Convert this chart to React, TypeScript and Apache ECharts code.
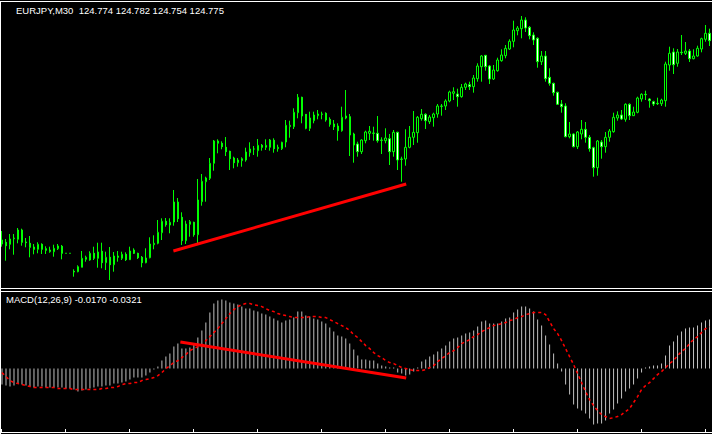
import React, { useEffect, useRef } from "react";
import * as echarts from "echarts";

const symbol = "EURJPY";
const timeframe = "M30";
const headerOHLC = ["124.774", "124.782", "124.754", "124.775"];
const macdLabel = "MACD(12,26,9)";
const macdHeaderValues = ["-0.0170", "-0.0321"];

// [open, close, low, high]
const ohlc: number[][] = [
  [122.74, 122.78, 122.713, 122.87],
  [122.757, 122.723, 122.573, 122.79],
  [122.737, 122.79, 122.687, 122.84],
  [122.793, 122.8, 122.633, 122.84],
  [122.787, 122.88, 122.747, 122.9],
  [122.88, 122.757, 122.723, 122.893],
  [122.76, 122.753, 122.707, 122.8],
  [122.747, 122.707, 122.607, 122.82],
  [122.71, 122.687, 122.637, 122.74],
  [122.687, 122.737, 122.647, 122.757],
  [122.737, 122.687, 122.64, 122.747],
  [122.693, 122.677, 122.64, 122.717],
  [122.663, 122.68, 122.653, 122.713],
  [122.663, 122.697, 122.613, 122.733],
  [122.693, 122.72, 122.68, 122.74],
  [122.717, 122.647, 122.587, 122.73],
  [122.647, 122.647, 122.647, 122.647],
  [122.647, 122.647, 122.647, 122.647],
  [122.467, 122.46, 122.413, 122.487],
  [122.463, 122.513, 122.457, 122.527],
  [122.507, 122.597, 122.507, 122.67],
  [122.587, 122.607, 122.563, 122.623],
  [122.58, 122.647, 122.573, 122.667],
  [122.647, 122.597, 122.58, 122.713],
  [122.597, 122.66, 122.503, 122.753],
  [122.667, 122.553, 122.497, 122.753],
  [122.553, 122.607, 122.48, 122.663],
  [122.607, 122.533, 122.38, 122.71],
  [122.533, 122.62, 122.463, 122.66],
  [122.62, 122.607, 122.563, 122.67],
  [122.597, 122.637, 122.58, 122.663],
  [122.637, 122.583, 122.57, 122.657],
  [122.583, 122.67, 122.58, 122.713],
  [122.68, 122.647, 122.64, 122.697],
  [122.647, 122.603, 122.59, 122.653],
  [122.607, 122.553, 122.507, 122.62],
  [122.553, 122.6, 122.547, 122.697],
  [122.603, 122.74, 122.597, 122.807],
  [122.733, 122.747, 122.687, 122.827],
  [122.747, 122.857, 122.737, 122.98],
  [122.853, 122.967, 122.78, 122.997],
  [122.967, 122.933, 122.913, 123.0],
  [122.93, 122.957, 122.847, 122.997],
  [122.96, 123.16, 122.923, 123.28],
  [123.16, 122.993, 122.96, 123.2],
  [123.007, 122.773, 122.73, 123.057],
  [122.773, 122.94, 122.74, 122.973],
  [122.937, 122.963, 122.813, 122.98],
  [122.957, 122.833, 122.813, 122.963],
  [122.833, 123.18, 122.747, 123.39],
  [123.163, 123.367, 123.123, 123.44],
  [123.363, 123.4, 123.163, 123.413],
  [123.397, 123.547, 123.38, 123.6],
  [123.547, 123.77, 123.473, 123.78],
  [123.747, 123.77, 123.647, 123.787],
  [123.747, 123.713, 123.687, 123.767],
  [123.707, 123.663, 123.62, 123.81],
  [123.667, 123.593, 123.48, 123.673],
  [123.6, 123.553, 123.497, 123.613],
  [123.553, 123.58, 123.513, 123.6],
  [123.573, 123.593, 123.513, 123.607],
  [123.58, 123.66, 123.563, 123.703],
  [123.653, 123.69, 123.613, 123.757],
  [123.69, 123.69, 123.63, 123.72],
  [123.673, 123.727, 123.613, 123.79],
  [123.727, 123.707, 123.673, 123.74],
  [123.707, 123.727, 123.68, 123.787],
  [123.707, 123.78, 123.673, 123.79],
  [123.777, 123.693, 123.653, 123.797],
  [123.693, 123.707, 123.663, 123.733],
  [123.693, 123.757, 123.68, 123.763],
  [123.76, 123.927, 123.707, 123.98],
  [123.913, 123.927, 123.803, 123.973],
  [123.913, 124.057, 123.89, 124.097],
  [124.053, 124.207, 123.997, 124.24],
  [124.207, 124.02, 123.947, 124.213],
  [124.037, 123.897, 123.887, 124.04],
  [123.897, 124.0, 123.87, 124.063],
  [123.973, 124.03, 123.947, 124.063],
  [124.023, 124.04, 123.987, 124.08],
  [124.04, 124.037, 123.987, 124.063],
  [124.047, 123.98, 123.963, 124.057],
  [123.987, 123.937, 123.913, 124.007],
  [123.94, 123.913, 123.88, 123.98],
  [123.92, 123.873, 123.773, 123.947],
  [123.873, 124.007, 123.863, 124.113],
  [124.0, 124.02, 123.987, 124.28],
  [124.013, 123.83, 123.62, 124.04],
  [123.84, 123.73, 123.553, 123.853],
  [123.74, 123.663, 123.613, 123.763],
  [123.663, 123.78, 123.64, 123.787],
  [123.773, 123.86, 123.747, 123.873],
  [123.847, 123.867, 123.78, 123.92],
  [123.85, 123.847, 123.773, 123.913],
  [123.847, 123.773, 123.753, 124.02],
  [123.78, 123.777, 123.64, 123.807],
  [123.773, 123.8, 123.747, 123.897],
  [123.793, 123.663, 123.53, 123.84],
  [123.663, 123.857, 123.613, 123.88],
  [123.857, 123.58, 123.48, 123.863],
  [123.59, 123.587, 123.363, 123.613],
  [123.59, 123.707, 123.523, 123.887],
  [123.707, 123.807, 123.697, 123.92],
  [123.807, 123.857, 123.73, 124.07],
  [123.853, 124.007, 123.753, 124.02],
  [123.993, 124.037, 123.973, 124.09],
  [124.037, 123.973, 123.89, 124.047],
  [123.963, 124.01, 123.94, 124.03],
  [124.003, 124.04, 123.913, 124.053],
  [124.04, 124.12, 124.003, 124.14],
  [124.12, 124.117, 124.023, 124.14],
  [124.12, 124.17, 124.08, 124.187],
  [124.17, 124.26, 124.157, 124.273],
  [124.247, 124.263, 124.18, 124.307],
  [124.24, 124.213, 124.113, 124.293],
  [124.213, 124.307, 124.203, 124.34],
  [124.307, 124.34, 124.28, 124.353],
  [124.333, 124.313, 124.28, 124.363],
  [124.313, 124.4, 124.253, 124.43],
  [124.393, 124.52, 124.363, 124.547],
  [124.513, 124.62, 124.363, 124.63],
  [124.627, 124.513, 124.473, 124.63],
  [124.52, 124.39, 124.34, 124.53],
  [124.39, 124.48, 124.38, 124.53],
  [124.473, 124.58, 124.463, 124.603],
  [124.573, 124.63, 124.563, 124.687],
  [124.623, 124.697, 124.597, 124.73],
  [124.69, 124.767, 124.68, 124.787],
  [124.767, 124.88, 124.707, 124.973],
  [124.873, 124.9, 124.827, 124.92],
  [124.893, 124.98, 124.797, 125.02],
  [124.98, 124.9, 124.86, 125.007],
  [124.907, 124.823, 124.787, 124.92],
  [124.83, 124.78, 124.73, 124.857],
  [124.797, 124.563, 124.503, 124.807],
  [124.563, 124.62, 124.53, 124.67],
  [124.62, 124.393, 124.363, 124.67],
  [124.407, 124.347, 124.323, 124.497],
  [124.347, 124.253, 124.223, 124.353],
  [124.257, 124.137, 124.13, 124.263],
  [124.14, 124.113, 124.053, 124.18],
  [124.12, 123.813, 123.807, 124.147],
  [123.813, 123.84, 123.797, 123.96],
  [123.84, 123.713, 123.707, 123.847],
  [123.713, 123.86, 123.69, 123.87],
  [123.84, 123.887, 123.787, 123.98],
  [123.887, 123.807, 123.753, 123.96],
  [123.807, 123.693, 123.663, 123.83],
  [123.703, 123.503, 123.413, 123.713],
  [123.503, 123.77, 123.423, 123.78],
  [123.76, 123.713, 123.593, 123.78],
  [123.713, 123.807, 123.653, 123.86],
  [123.807, 123.87, 123.763, 123.89],
  [123.863, 124.007, 123.853, 124.053],
  [124.0, 124.03, 123.973, 124.067],
  [124.03, 123.99, 123.98, 124.08],
  [123.987, 124.137, 123.963, 124.147],
  [124.137, 124.023, 123.98, 124.147],
  [124.023, 124.06, 124.02, 124.113],
  [124.057, 124.2, 124.047, 124.213],
  [124.19, 124.237, 124.163, 124.247],
  [124.237, 124.233, 124.18, 124.273],
  [124.19, 124.173, 124.103, 124.2],
  [124.163, 124.14, 124.12, 124.173],
  [124.147, 124.143, 124.13, 124.203],
  [124.143, 124.18, 124.12, 124.193],
  [124.173, 124.54, 124.113, 124.563],
  [124.53, 124.647, 124.473, 124.713],
  [124.66, 124.533, 124.44, 124.697],
  [124.547, 124.66, 124.513, 124.69],
  [124.657, 124.653, 124.63, 124.83],
  [124.647, 124.67, 124.63, 124.76],
  [124.67, 124.593, 124.56, 124.69],
  [124.593, 124.62, 124.587, 124.687],
  [124.62, 124.697, 124.613, 124.723],
  [124.69, 124.793, 124.657, 124.803],
  [124.787, 124.847, 124.763, 124.93],
  [124.847, 124.773, 124.72, 124.893],
];

const macdMain: number[] = [
  -0.016, -0.017, -0.018, -0.017, -0.015, -0.016, -0.017, -0.018, -0.019, -0.018,
  -0.018, -0.019, -0.019, -0.019, -0.019, -0.019, -0.02, -0.02, -0.021, -0.023,
  -0.022, -0.021, -0.02, -0.019, -0.018, -0.018, -0.017, -0.017, -0.015, -0.015,
  -0.014, -0.013, -0.011, -0.009, -0.009, -0.009, -0.007, -0.004, -0.001, 0.002,
  0.008, 0.012, 0.015, 0.022, 0.025, 0.02, 0.02, 0.021, 0.025, 0.031,
  0.038, 0.046, 0.056, 0.065, 0.068, 0.069, 0.068, 0.066, 0.065, 0.064,
  0.062, 0.06, 0.06, 0.058, 0.057, 0.055, 0.054, 0.052, 0.05, 0.048,
  0.046, 0.048, 0.049, 0.051, 0.057, 0.057, 0.053, 0.052, 0.05, 0.049,
  0.047, 0.045, 0.041, 0.037, 0.033, 0.032, 0.03, 0.025, 0.019, 0.013,
  0.009, 0.009, 0.008, 0.008, 0.005, 0.003, 0.002, 0.001, 0.001, -0.004,
  -0.005, -0.007, -0.006, -0.003, 0.001, 0.007, 0.009, 0.012, 0.014, 0.017,
  0.02, 0.023, 0.027, 0.03, 0.031, 0.033, 0.035, 0.036, 0.038, 0.042,
  0.047, 0.048, 0.045, 0.045, 0.045, 0.047, 0.05, 0.051, 0.056, 0.059,
  0.062, 0.062, 0.06, 0.057, 0.049, 0.043, 0.033, 0.024, 0.015, 0.005,
  -0.003, -0.016, -0.026, -0.036, -0.04, -0.042, -0.045, -0.05, -0.056, -0.055,
  -0.055, -0.052, -0.045, -0.041, -0.035, -0.03, -0.023, -0.02, -0.016, -0.01,
  -0.004, 0.001, 0.002, 0.003, 0.003, 0.005, 0.013, 0.023, 0.027, 0.033,
  0.037, 0.04, 0.041, 0.041, 0.043, 0.046, 0.048, 0.049,
];

const macdSignal: number[] = [
  -0.004, -0.008, -0.012, -0.014, -0.015, -0.016, -0.017, -0.018, -0.019, -0.019,
  -0.019, -0.019, -0.019, -0.019, -0.02, -0.02, -0.02, -0.02, -0.021, -0.021,
  -0.021, -0.021, -0.021, -0.021, -0.021, -0.02, -0.02, -0.019, -0.019, -0.018,
  -0.016, -0.015, -0.015, -0.014, -0.014, -0.012, -0.011, -0.01, -0.009, -0.007,
  -0.004, 0.0, 0.003, 0.006, 0.008, 0.011, 0.014, 0.018, 0.02, 0.022,
  0.023, 0.028, 0.032, 0.036, 0.04, 0.045, 0.05, 0.055, 0.059, 0.062,
  0.064, 0.065, 0.065, 0.064, 0.063, 0.062, 0.06, 0.058, 0.057, 0.055,
  0.054, 0.053, 0.052, 0.051, 0.051, 0.051, 0.051, 0.052, 0.052, 0.052,
  0.051, 0.051, 0.049, 0.047, 0.045, 0.043, 0.041, 0.038, 0.034, 0.031,
  0.027, 0.023, 0.02, 0.016, 0.013, 0.011, 0.008, 0.006, 0.005, 0.003,
  0.001, 0.0, -0.001, -0.002, -0.002, -0.002, -0.001, 0.001, 0.003, 0.007,
  0.01, 0.013, 0.016, 0.018, 0.021, 0.025, 0.027, 0.029, 0.032, 0.034,
  0.037, 0.039, 0.041, 0.043, 0.044, 0.045, 0.046, 0.048, 0.049, 0.051,
  0.052, 0.054, 0.055, 0.056, 0.056, 0.056, 0.054, 0.047, 0.04, 0.035,
  0.028, 0.02, 0.012, 0.004, -0.005, -0.014, -0.023, -0.031, -0.037, -0.042,
  -0.046, -0.048, -0.05, -0.049, -0.048, -0.046, -0.043, -0.04, -0.034, -0.028,
  -0.021, -0.017, -0.014, -0.01, -0.006, -0.003, 0.001, 0.005, 0.008, 0.013,
  0.017, 0.02, 0.025, 0.029, 0.032, 0.036, 0.04, 0.042,
];

// hand-drawn trend lines: [bar position, value]
const priceTrendLine: number[][] = [
  [42.875, 122.67],
  [101.125, 123.34],
];
const macdTrendLine: number[][] = [
  [44.625, 0.0266],
  [101.125, -0.0094],
];

const categories = ohlc.map((_, i) => String(i));

export default function App() {
  const ref = useRef<HTMLDivElement>(null);
  useEffect(() => {
    document.body.style.margin = "0";
    document.body.style.background = "#000";
    if (!ref.current) return;
    const chart = echarts.init(ref.current, null, { renderer: "svg" });
    const W = 712;
    const white = "#ffffff";
    const font = '9.5px "Liberation Sans", Arial, sans-serif';
    const n = categories.length;
    const ticks: any[] = [];
    for (let x = 1; x < W; x += 64) {
      ticks.push({
        type: "line",
        shape: { x1: x + 0.5, y1: 429, x2: x + 0.5, y2: 433 },
        style: { stroke: white, lineWidth: 1 },
        silent: true,
      });
    }
    chart.setOption({
      animation: false,
      backgroundColor: "#000000",
      grid: [
        { left: -0.5, width: W, top: 0, height: 288 },
        { left: -0.5, width: W, top: 292, height: 140 },
      ],
      xAxis: [
        { type: "category", gridIndex: 0, data: categories, show: false },
        { type: "category", gridIndex: 1, data: categories, show: false },
        { type: "value", gridIndex: 0, min: -0.5, max: n - 0.5, show: false },
        { type: "value", gridIndex: 1, min: -0.5, max: n - 0.5, show: false },
      ],
      yAxis: [
        { type: "value", gridIndex: 0, min: 122.3, max: 125.18, show: false },
        { type: "value", gridIndex: 1, min: -0.0634, max: 0.0766, show: false },
      ],
      series: [
        {
          type: "candlestick",
          xAxisIndex: 0,
          yAxisIndex: 0,
          data: ohlc,
          barWidth: 2,
          itemStyle: {
            color: "#000000",
            color0: "#ffffff",
            borderColor: "#00ff00",
            borderColor0: "#00ff00",
            borderWidth: 1,
          },
        },
        {
          type: "line",
          xAxisIndex: 2,
          yAxisIndex: 0,
          data: priceTrendLine,
          showSymbol: false,
          lineStyle: { color: "#ff0000", width: 3 },
        },
        {
          type: "bar",
          xAxisIndex: 1,
          yAxisIndex: 1,
          data: macdMain,
          barWidth: 1,
          itemStyle: { color: "#c0c0c0" },
        },
        {
          type: "line",
          xAxisIndex: 1,
          yAxisIndex: 1,
          data: macdSignal,
          showSymbol: false,
          lineStyle: { color: "#ff0000", width: 1.5, type: [3, 3] },
        },
        {
          type: "line",
          xAxisIndex: 3,
          yAxisIndex: 1,
          data: macdTrendLine,
          showSymbol: false,
          lineStyle: { color: "#ff0000", width: 3 },
        },
      ],
      graphic: [
        { type: "line", shape: { x1: 0, y1: 1.5, x2: W, y2: 1.5 }, style: { stroke: white, lineWidth: 1 }, silent: true },
        { type: "line", shape: { x1: 0.5, y1: 1, x2: 0.5, y2: 434 }, style: { stroke: white, lineWidth: 1 }, silent: true },
        { type: "line", shape: { x1: 0, y1: 288.5, x2: W, y2: 288.5 }, style: { stroke: white, lineWidth: 1 }, silent: true },
        { type: "line", shape: { x1: 0, y1: 291.5, x2: W, y2: 291.5 }, style: { stroke: white, lineWidth: 1 }, silent: true },
        { type: "line", shape: { x1: 0, y1: 432.5, x2: W, y2: 432.5 }, style: { stroke: white, lineWidth: 1 }, silent: true },
        ...ticks,
        {
          type: "text",
          x: 16,
          y: 5,
          style: {
            text: `${symbol},${timeframe}  ${headerOHLC.join(" ")}`,
            fill: white,
            font,
          },
          silent: true,
        },
        {
          type: "text",
          x: 6,
          y: 294,
          style: {
            text: `${macdLabel} ${macdHeaderValues.join(" ")}`,
            fill: white,
            font,
          },
          silent: true,
        },
      ],
    });
    return () => chart.dispose();
  }, []);
  return <div ref={ref} style={{ width: 712, height: 434 }} />;
}
